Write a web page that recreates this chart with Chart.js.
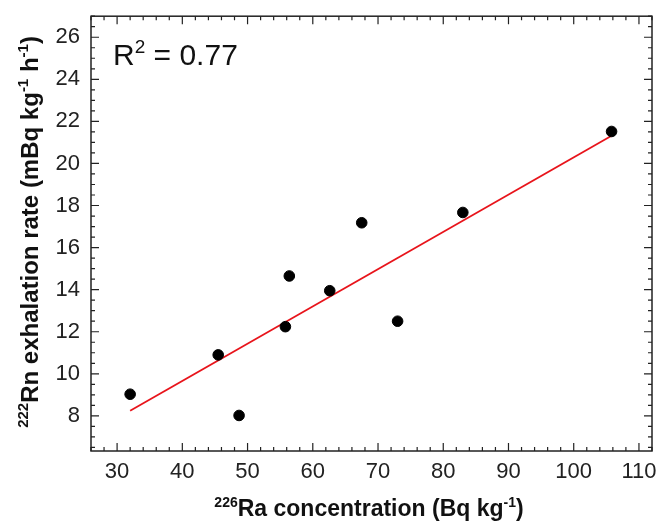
<!DOCTYPE html>
<html>
<head>
<meta charset="utf-8">
<script src="https://cdn.jsdelivr.net/npm/chart.js@4"></script>
<style>
  html, body { margin: 0; padding: 0; background: #fff; }
  #wrap { width: 660px; height: 523px; }
</style>
</head>
<body>
<div id="wrap"><canvas id="scatter"></canvas></div>
<script>
// Measured samples
const raConc = [32.0, 45.5, 48.7, 55.8, 56.4, 62.6, 67.5, 73.0, 83.0, 105.8];
const rnRate = [9.03, 10.9, 8.02, 12.24, 14.65, 13.95, 17.18, 12.5, 17.67, 21.52];

// Linear fit end points
const fitX = [32.0, 105.8];
const fitY = [8.24, 21.32];

// Axis ticks
const xTicks = [30, 40, 50, 60, 70, 80, 90, 100, 110];
const yTicks = [8, 10, 12, 14, 16, 18, 20, 22, 24, 26];
const xMinor = 2;
const yMinor = 0.5;

const rSquared = '0.77';

const FONT = 'Arial, "Liberation Sans", sans-serif';

// draw text made of normal and superscript pieces
function richWidth(ctx, parts, size, weight) {
  let w = 0;
  parts.forEach(p => {
    ctx.font = `${weight} ${p.sup ? Math.round(size * 0.62) : size}px ${FONT}`;
    w += ctx.measureText(p.t).width;
  });
  return w;
}
function drawRich(ctx, parts, x, y, size, weight) {
  let cx = x;
  parts.forEach(p => {
    const s = p.sup ? Math.round(size * 0.62) : size;
    ctx.font = `${weight} ${s}px ${FONT}`;
    ctx.fillText(p.t, cx, p.sup ? y - size * 0.4 : y);
    cx += ctx.measureText(p.t).width;
  });
}

const xTitle = [{t: '226', sup: true}, {t: 'Ra concentration (Bq kg'}, {t: '-1', sup: true}, {t: ')'}];
const yTitle = [{t: '222', sup: true}, {t: 'Rn exhalation rate (mBq kg'}, {t: '-1', sup: true}, {t: ' h'}, {t: '-1', sup: true}, {t: ')'}];

const framePlugin = {
  id: 'frame',
  afterDraw(chart) {
    const ctx = chart.ctx;
    const a = chart.chartArea;
    const xs = chart.scales.x, ys = chart.scales.y;
    ctx.save();
    ctx.strokeStyle = '#222';
    ctx.lineWidth = 1.5;
    ctx.strokeRect(a.left, a.top, a.right - a.left, a.bottom - a.top);

    // inward ticks on all four sides
    ctx.lineWidth = 1.2;
    ctx.beginPath();
    for (let v = Math.ceil(xs.min / xMinor) * xMinor; v <= xs.max; v += xMinor) {
      const px = xs.getPixelForValue(v);
      const len = v % 10 === 0 ? 8 : 4;
      ctx.moveTo(px, a.bottom); ctx.lineTo(px, a.bottom - len);
      ctx.moveTo(px, a.top); ctx.lineTo(px, a.top + len);
    }
    for (let v = Math.ceil(ys.min / yMinor) * yMinor; v <= ys.max; v += yMinor) {
      const py = ys.getPixelForValue(v);
      const len = Math.abs(v % 2) < 1e-6 ? 8 : 4;
      ctx.moveTo(a.left, py); ctx.lineTo(a.left + len, py);
      ctx.moveTo(a.right, py); ctx.lineTo(a.right - len, py);
    }
    ctx.stroke();

    // axis titles
    ctx.fillStyle = '#111';
    ctx.textBaseline = 'alphabetic';
    ctx.textAlign = 'left';
    let w = richWidth(ctx, xTitle, 23, 'bold');
    drawRich(ctx, xTitle, 369 - w / 2, 516, 23, 'bold');

    ctx.save();
    ctx.translate(38, 232);
    ctx.rotate(-Math.PI / 2);
    w = richWidth(ctx, yTitle, 24, 'bold');
    drawRich(ctx, yTitle, -w / 2, 0, 24, 'bold');
    ctx.restore();

    // R squared annotation
    drawRich(ctx, [{t: 'R'}, {t: '2', sup: true}, {t: ' = ' + rSquared}], 113, 65, 30, 'normal');
    ctx.restore();
  }
};

new Chart(document.getElementById('scatter'), {
  type: 'scatter',
  data: {
    datasets: [{
      label: 'Linear fit',
      data: fitX.map((x, i) => ({x, y: fitY[i]})),
      showLine: true,
      borderColor: '#e8141b',
      borderWidth: 1.8,
      pointRadius: 0,
      order: 2
    }, {
      label: 'Samples',
      data: raConc.map((x, i) => ({x, y: rnRate[i]})),
      backgroundColor: '#000',
      borderColor: '#000',
      pointRadius: 5.3,
      order: 1
    }]
  },
  options: {
    responsive: true,
    maintainAspectRatio: false,
    animation: false,
    layout: { padding: { left: 0, top: 16, right: 8, bottom: 0 } },
    plugins: {
      legend: { display: false },
      tooltip: { enabled: false }
    },
    scales: {
      x: {
        type: 'linear',
        min: 26,
        max: 112,
        afterBuildTicks: s => { s.ticks = xTicks.map(v => ({value: v})); },
        afterFit: s => { s.height = 72; },
        grid: { display: false },
        border: { display: false },
        ticks: {
          color: '#222',
          padding: 0,
          maxRotation: 0,
          font: { family: FONT, size: 22 }
        }
      },
      y: {
        type: 'linear',
        min: 6.33,
        max: 27,
        afterBuildTicks: s => { s.ticks = yTicks.map(v => ({value: v})); },
        afterFit: s => { s.width = 91; },
        grid: { display: false },
        border: { display: false },
        ticks: {
          color: '#222',
          padding: 3,
          font: { family: FONT, size: 22 }
        }
      }
    }
  },
  plugins: [framePlugin]
});
</script>
</body>
</html>
